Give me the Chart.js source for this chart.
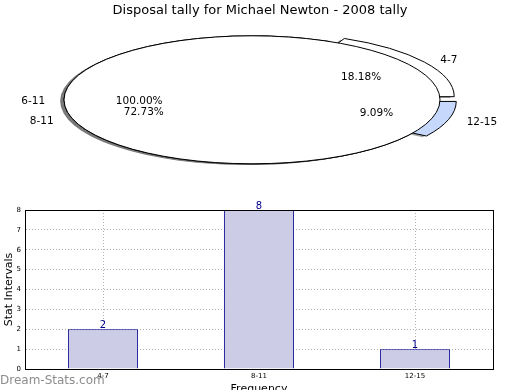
<!DOCTYPE html>
<html>
<head>
<meta charset="utf-8">
<script src="https://cdn.jsdelivr.net/npm/chart.js@4.4.0/dist/chart.umd.min.js"></script>
<style>
    html, body { margin: 0; padding: 0; background: #fff; overflow: hidden; }
    #wrap { position: relative; width: 520px; height: 390px; }
    #barBox { position: absolute; left: 0; top: 0; width: 520px; height: 396px; }
    #pieBox { position: absolute; left: 0; top: 0; width: 520px; height: 200px; }
</style>
</head>
<body>
<div id="wrap">
    <div id="barBox"><canvas id="barChart"></canvas></div>
    <div id="pieBox"><canvas id="pieChart"></canvas></div>
</div>
<script>
// Disposal tally - Michael Newton, 2008

const FONT = 'DejaVu Sans';
const chartTitle = 'Disposal tally for Michael Newton - 2008 tally';
const intervals = ['4-7', '8-11', '12-15'];
const tallies = [2, 8, 1];
// second (whole) pie drawn on top of the first one
const wholeIntervals = ['6-11'];
const wholeTallies = [1];
const yMax = 8;
const yTitle = 'Stat Intervals';
const xTitle = 'Frequency';
const watermarkText = 'Dream-Stats.com';

// Pie styling
const pieColors = ['#ffffff', '#ffffff', '#c6d9fd'];
const pieExplode = [0.09, 0, 0.09];
const flatten = 64 / 188;   // pie is squashed into an ellipse
const pieShiftX = -8;       // pie sits a bit left of the title

const rev = arr => arr.slice().reverse();

// Draws the pie arcs squashed into an ellipse, with exploded wedges and a shadow
const flatPie = {
    id: 'flatPie',
    beforeDatasetsDraw(chart) {
        const ctx = chart.ctx;
        const proto = CanvasRenderingContext2D.prototype;
        const base = ctx.getTransform();
        const R = chart.getDatasetMeta(0).data[0].outerRadius;
        const slices = [];
        chart.data.datasets.forEach((ds, d) => {
            chart.getDatasetMeta(d).data.forEach((arc, i) => {
                // every dataset is a full pie, not a ring
                const solid = Object.create(arc);
                solid.innerRadius = 0;
                solid.outerRadius = R;
                slices.push({ arc: solid, explode: ds.explode[i], whole: arc.circumference >= Math.PI * 2 - 1e-6 });
            });
        });
        const place = (s, dx, dy) => {
            const a = s.arc;
            const mid = (a.startAngle + a.endAngle) / 2;
            ctx.setTransform(base);
            ctx.translate(dx + pieShiftX, dy);
            ctx.translate(a.x, a.y);
            ctx.scale(1, flatten);
            ctx.translate(Math.cos(mid) * s.explode * R, Math.sin(mid) * s.explode * R);
            ctx.translate(-a.x, -a.y);
        };

        ctx.save();
        // shadows first, under every wedge
        ctx.fill = function () { this.fillStyle = 'rgba(77, 77, 77, 0.5)'; proto.fill.call(this); };
        ctx.stroke = function () {};
        slices.forEach(s => { place(s, -3.8, 1.3); s.arc.draw(ctx); });
        delete ctx.fill;

        // wedges, keeping 1px outlines after the squash
        ctx.stroke = function () { this.save(); this.setTransform(base); proto.stroke.call(this); this.restore(); };
        slices.forEach(s => {
            if (s.whole) ctx.lineTo = proto.moveTo; // no radial edge on a 100% slice
            place(s, 0, 0);
            s.arc.draw(ctx);
            delete ctx.lineTo;
        });
        delete ctx.stroke;
        ctx.restore();
        return false;
    },
    // labels go here: returning false above also skips afterDatasetsDraw
    afterDraw(chart) {
        const ctx = chart.ctx;
        const R = chart.getDatasetMeta(0).data[0].outerRadius;
        ctx.save();
        ctx.font = '10.5px "' + FONT + '"';
        ctx.fillStyle = '#000';
        ctx.textBaseline = 'middle';
        chart.data.datasets.forEach((ds, d) => {
            const total = ds.data.reduce((a, b) => a + b, 0);
            chart.getDatasetMeta(d).data.forEach((arc, i) => {
                const mid = (arc.startAngle + arc.endAngle) / 2;
                const e = ds.explode[i];
                const at = k => [arc.x + pieShiftX + Math.cos(mid) * k * R, arc.y + 1.5 + Math.sin(mid) * k * R * flatten];
                const [lx, ly] = at(1.1 + e);
                ctx.textAlign = Math.cos(mid) > 0 ? 'left' : 'right';
                ctx.fillText(ds.sliceLabels[i], lx, ly);
                const [px, py] = at(0.6 + e);
                ctx.textAlign = 'center';
                ctx.fillText((ds.data[i] / total * 100).toFixed(2) + '%', px, py);
            });
        });
        ctx.restore();
    }
};

// Box around the plot area
const plotFrame = {
    id: 'plotFrame',
    afterDraw(chart) {
        const { ctx, chartArea: a } = chart;
        ctx.save();
        ctx.strokeStyle = '#000';
        ctx.lineWidth = 1;
        ctx.strokeRect(Math.round(a.left) + 0.5, Math.round(a.top) + 0.5, Math.round(a.right - a.left), Math.round(a.bottom - a.top));
        ctx.restore();
    }
};

// Value above each bar
const barValues = {
    id: 'barValues',
    afterDraw(chart) {
        const ctx = chart.ctx;
        const ds = chart.data.datasets[0];
        ctx.save();
        ctx.font = '10px "' + FONT + '"';
        ctx.fillStyle = '#00008b';
        ctx.textAlign = 'center';
        ctx.textBaseline = 'bottom';
        chart.getDatasetMeta(0).data.forEach((bar, i) => {
            ctx.fillText(String(ds.data[i]), bar.x, bar.y + 1);
        });
        ctx.restore();
    }
};

const watermark = {
    id: 'watermark',
    afterDraw(chart) {
        const ctx = chart.ctx;
        ctx.save();
        ctx.font = '12px "' + FONT + '"';
        ctx.fillStyle = 'rgba(120, 120, 120, 0.85)';
        ctx.textAlign = 'left';
        ctx.textBaseline = 'middle';
        ctx.fillText(watermarkText, 0, 381);
        ctx.restore();
    }
};

new Chart(document.getElementById('pieChart'), {
    type: 'pie',
    data: {
        labels: rev(intervals),
        datasets: [
            {
                data: rev(tallies),
                sliceLabels: rev(intervals),
                explode: rev(pieExplode),
                backgroundColor: rev(pieColors),
                borderColor: '#000',
                borderWidth: 1
            },
            {
                data: wholeTallies,
                sliceLabels: wholeIntervals,
                explode: [0],
                backgroundColor: '#ffffff',
                borderColor: '#000',
                borderWidth: 1
            }
        ]
    },
    options: {
        responsive: true,
        maintainAspectRatio: false,
        animation: false,
        events: [],
        rotation: 90,
        radius: 188,
        layout: { padding: { top: 0, bottom: 19, left: 0, right: 0 } },
        plugins: {
            legend: { display: false },
            tooltip: { enabled: false },
            title: {
                display: true,
                text: chartTitle,
                color: '#000',
                font: { family: FONT, size: 13, weight: 'normal' },
                padding: { top: 3, bottom: 0 }
            }
        }
    },
    plugins: [flatPie]
});

new Chart(document.getElementById('barChart'), {
    type: 'bar',
    data: {
        labels: intervals,
        datasets: [{
            data: tallies,
            backgroundColor: '#ccccE6',
            borderColor: '#00008b',
            borderWidth: 1,
            barPercentage: 0.45,
            categoryPercentage: 1
        }]
    },
    options: {
        responsive: true,
        maintainAspectRatio: false,
        animation: false,
        events: [],
        layout: { padding: { top: 210, right: 27, left: 0, bottom: 0 } },
        plugins: {
            legend: { display: false },
            tooltip: { enabled: false }
        },
        scales: {
            x: {
                z: 1,
                grid: { offset: false, color: '#b0b0b0', drawTicks: false },
                border: { color: '#000', dash: [1, 2] },
                ticks: { color: '#000', font: { family: FONT, size: 7 }, padding: 3 },
                title: { display: true, text: xTitle, color: '#000', font: { family: FONT, size: 11 }, padding: 0 },
                afterFit(scale) { scale.height = 27; }
            },
            y: {
                z: 1,
                min: 0,
                max: yMax,
                grid: { color: '#b0b0b0', drawTicks: false },
                border: { color: '#000', dash: [1, 2] },
                ticks: { stepSize: 1, color: '#000', font: { family: FONT, size: 7 }, padding: 4 },
                title: { display: true, text: yTitle, color: '#000', font: { family: FONT, size: 11 }, padding: { top: 3, bottom: 0 } },
                afterFit(scale) { scale.width = 25; }
            }
        }
    },
    plugins: [plotFrame, barValues, watermark]
});
</script>
</body>
</html>
